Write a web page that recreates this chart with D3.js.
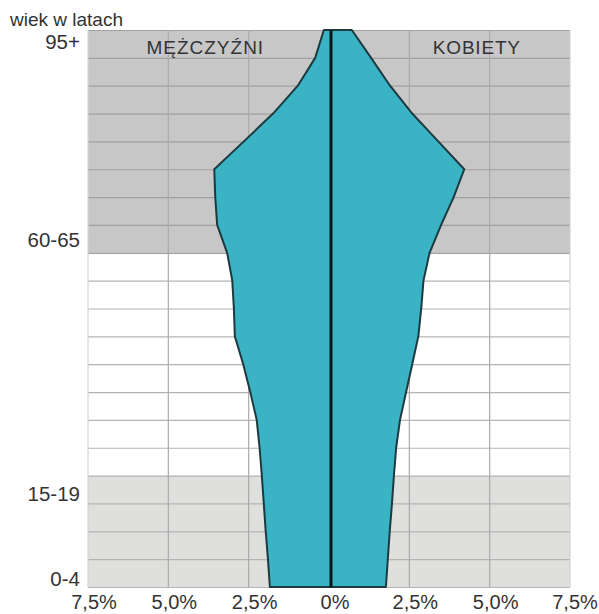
<!DOCTYPE html>
<html>
<head>
<meta charset="utf-8">
<script src="https://cdn.jsdelivr.net/npm/d3@7"></script>
<style>
  html, body { margin: 0; padding: 0; background: #fff; }
  svg text { font-family: "Liberation Sans", Arial, sans-serif; fill: #333; }
</style>
</head>
<body>
<svg id="chart"></svg>
<script>
// age groups, bottom to top (labels as printed)
const ageGroups = ['0-4', '5-9', '10-14', '15-19', '20-24', '25-29', '30-34', '35-39', '40-44', '45-49',
  '50-54', '55-59', '60-65', '65-69', '70-74', '75-79', '80-84', '85-89', '90-94', '95+'];
const shownAgeLabels = ['0-4', '15-19', '60-65', '95+'];

// profile read at the age boundaries (0, 5, ... 100)
const ageBounds = [0, 5, 10, 15, 20, 25, 30, 35, 40, 45, 50, 55, 60, 65, 70, 75, 80, 85, 90, 95, 100];
const male   = [1.84, 1.90, 1.97, 2.03, 2.09, 2.16, 2.25, 2.45, 2.67, 2.93, 2.96, 3.01, 3.17, 3.48, 3.54, 3.57, 2.65, 1.74, 0.97, 0.43, 0.16];
const female = [1.77, 1.83, 1.89, 1.96, 2.02, 2.09, 2.21, 2.40, 2.59, 2.78, 2.87, 2.94, 3.13, 3.49, 3.88, 4.21, 3.40, 2.59, 1.90, 1.31, 0.71];

const xTicks = [-7.5, -5, -2.5, 0, 2.5, 5, 7.5];
const zoneAges = [0, 20, 60, 100]; // pre-working, working, post-working age

const width = 599, height = 614;
const margin = { left: 88, right: 570, top: 30, bottom: 587 };

const svg = d3.select('#chart')
  .attr('width', width)
  .attr('height', height);

const x = d3.scaleLinear().domain([-7.5, 7.5]).range([margin.left, margin.right]);
const y = d3.scaleLinear().domain([0, 100]).range([margin.bottom, margin.top]);
// the printed age labels sit on a slightly stretched scale
const labelBand = d3.scaleBand().domain(ageGroups).range([593, 28]);

// background zones
const zoneFill = ['#dfdfdd', '#ffffff', '#c7c7c7'];
svg.append('g')
  .selectAll('rect')
  .data(d3.pairs(zoneAges))
  .enter()
  .append('rect')
  .attr('x', x(-7.5))
  .attr('width', x(7.5) - x(-7.5))
  .attr('y', d => y(d[1]))
  .attr('height', d => y(d[0]) - y(d[1]))
  .attr('fill', (_, i) => zoneFill[i]);

// grid
const grid = svg.append('g');
grid.selectAll('line.h')
  .data(ageBounds)
  .enter()
  .append('line')
  .attr('x1', x(-7.5))
  .attr('x2', x(7.5))
  .attr('y1', d => y(d) + 0.5)
  .attr('y2', d => y(d) + 0.5)
  .attr('stroke', d => d >= 60 ? '#a0a0a0' : '#b4b4b4')
  .attr('stroke-width', 1.2);

grid.selectAll('line.v')
  .data(xTicks.filter(d => d !== 0))
  .enter()
  .append('line')
  .attr('x1', d => x(d))
  .attr('x2', d => x(d))
  .attr('y1', y(100))
  .attr('y2', y(0))
  .attr('stroke', d => Math.abs(d) === 7.5 ? '#d2d2d2' : '#aaaaaa')
  .attr('stroke-width', 1.2);

// pyramid shape
const profile = ageBounds.map((a, i) => ({ age: a, m: male[i], f: female[i] }));
const area = d3.area()
  .y(d => y(d.age))
  .x0(d => x(-d.m))
  .x1(d => x(d.f));

svg.append('path')
  .datum(profile)
  .attr('d', area)
  .attr('fill', '#3ab3c5')
  .attr('stroke', '#1c3a3f')
  .attr('stroke-width', 2)
  .attr('stroke-linejoin', 'round');

// center axis
svg.append('line')
  .attr('x1', x(0) + 2)
  .attr('x2', x(0) + 2)
  .attr('y1', y(100))
  .attr('y2', y(0))
  .attr('stroke', '#0b1416')
  .attr('stroke-width', 3);

// sex headers
svg.append('text')
  .attr('x', x(-3.85))
  .attr('y', 54)
  .attr('text-anchor', 'middle')
  .style('font-size', '19px')
  .style('letter-spacing', '1px')
  .text('MĘŻCZYŹNI');

svg.append('text')
  .attr('x', x(4.6))
  .attr('y', 54)
  .attr('text-anchor', 'middle')
  .style('font-size', '19px')
  .style('letter-spacing', '0.8px')
  .text('KOBIETY');

// y labels
svg.append('text')
  .attr('x', 10)
  .attr('y', 26)
  .style('font-size', '19px')
  .text('wiek w latach');

svg.append('g')
  .selectAll('text')
  .data(shownAgeLabels)
  .enter()
  .append('text')
  .attr('x', 80)
  .attr('y', d => labelBand(d) + labelBand.bandwidth() / 2 + 7)
  .attr('text-anchor', 'end')
  .style('font-size', '20.5px')
  .text(d => d);

// x labels
const fmt = d => d === 0 ? '0%' : d3.format('.1f')(Math.abs(d)).replace('.', ',') + '%';
svg.append('g')
  .selectAll('text')
  .data(xTicks)
  .enter()
  .append('text')
  .attr('x', d => Math.min(x(d) + 6, width - 24))
  .attr('y', 609)
  .attr('text-anchor', 'middle')
  .style('font-size', '20px')
  .text(fmt);
</script>
</body>
</html>
